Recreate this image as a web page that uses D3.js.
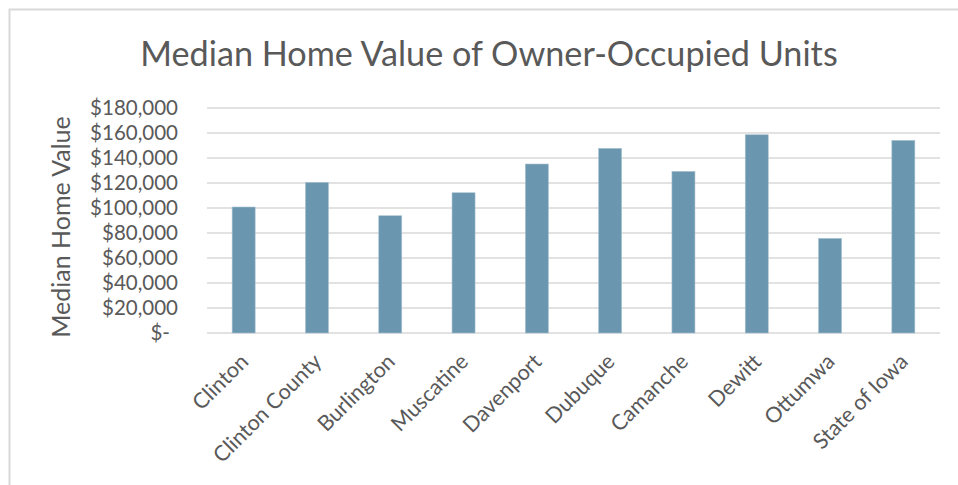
<!DOCTYPE html>
<html>
<head>
<meta charset="utf-8">
<script src="https://cdn.jsdelivr.net/npm/d3@7"></script>
<style>
  html, body { margin: 0; padding: 0; background: #fff; }
  svg { display: block; }
  text { font-family: Lato, "Open Sans", sans-serif; fill: #595959; }
</style>
</head>
<body>
<svg id="chart" width="958" height="485"></svg>
<script>
// Median home value by place
const categories = ["Clinton", "Clinton County", "Burlington", "Muscatine", "Davenport",
                    "Dubuque", "Camanche", "Dewitt", "Ottumwa", "State of Iowa"];
const values = [100800, 120500, 93800, 112200, 135200, 147700, 129300, 158600, 75700, 154100];
const yTicks = [0, 20000, 40000, 60000, 80000, 100000, 120000, 140000, 160000, 180000];
const titleText = "Median Home Value of Owner-Occupied Units";
const yAxisTitle = "Median Home Value";

const svg = d3.select("#chart");
const W = 958, H = 485;
const plot = { left: 207, right: 940, top: 108, bottom: 333 };
const FONT = 'Lato, "Open Sans", sans-serif';

// chart frame
svg.append("rect")
  .attr("x", 9.5).attr("y", 9.5)
  .attr("width", W + 20).attr("height", H + 20)
  .attr("fill", "#fff")
  .attr("stroke", "#d9d9d9").attr("stroke-width", 2);

const x = d3.scaleBand().domain(categories).range([plot.left, plot.right]).padding(0);
const y = d3.scaleLinear().domain([0, 180000]).range([plot.bottom, plot.top]);

// gridlines
svg.append("g").selectAll("line").data(yTicks).join("line")
  .attr("x1", plot.left).attr("x2", plot.right)
  .attr("y1", d => y(d)).attr("y2", d => y(d))
  .attr("stroke", "#d9d9d9").attr("stroke-width", 1.5);

// bars
const barW = x.bandwidth() * 0.314;
svg.append("g").selectAll("rect").data(values).join("rect")
  .attr("x", (d, i) => x(categories[i]) + (x.bandwidth() - barW) / 2)
  .attr("y", d => y(d))
  .attr("width", barW)
  .attr("height", d => y(0) - y(d))
  .attr("fill", "#6a96b0")
  .attr("stroke", "#a9c2d1").attr("stroke-width", 0.6);

// y axis labels
const fmt = d => d === 0 ? "$-" : "$" + d3.format(",")(d);
const yAxis = d3.axisLeft(y).tickValues(yTicks).tickFormat(fmt).tickSize(0).tickPadding(0);
const gy = svg.append("g").attr("transform", `translate(178,0)`).call(yAxis);
gy.select(".domain").remove();
gy.selectAll("text")
  .style("font-family", FONT)
  .style("font-size", "20.5px").attr("fill", "#595959");
gy.selectAll(".tick").filter(d => d === 0).select("text").attr("dx", "-8");

// x axis labels
const xAxis = d3.axisBottom(x).tickSize(0).tickPadding(0);
const gx = svg.append("g").attr("transform", `translate(0,${plot.bottom})`).call(xAxis);
gx.select(".domain").remove();
gx.selectAll("text")
  .style("font-family", FONT)
  .style("font-size", "21.5px").attr("fill", "#595959")
  .attr("text-anchor", "end")
  .attr("dy", "0")
  .attr("transform", "translate(6,30) rotate(-45)");

// title
svg.append("text")
  .attr("x", 489).attr("y", 66)
  .attr("text-anchor", "middle")
  .style("font-size", "34.2px")
  .text(titleText);

// y axis title
svg.append("text")
  .attr("transform", "translate(70,227) rotate(-90)")
  .attr("text-anchor", "middle")
  .style("font-size", "25px")
  .text(yAxisTitle);
</script>
</body>
</html>
